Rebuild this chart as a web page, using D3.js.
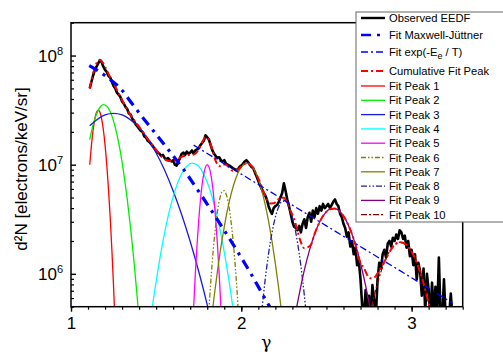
<!DOCTYPE html>
<html>
<head>
<meta charset="utf-8">
<script src="https://cdn.jsdelivr.net/npm/d3@7"></script>
<style>
  body { margin: 0; background: #fff; }
  svg { display: block; font-family: Arial, "Liberation Sans", sans-serif; }
</style>
</head>
<body>
<svg width="503" height="358"></svg>
<script>
// ---- data ----
// observed EEDF, one value per 0.01 in gamma, starting at gamma = 1.11
const obsStart = 1.11;
const obsStep = 0.01;
const obsCounts = [
  5.0e7, 5.75e7, 6.6e7, 7.4e7, 7.9e7, 8.5e7, 9.1e7, 8.7e7, 7.9e7, 7.4e7,
  7.1e7, 6.5e7, 6.3e7, 5.75e7, 5.25e7, 5.0e7, 4.57e7, 4.37e7, 4.17e7, 3.8e7,
  3.63e7, 3.39e7, 3.24e7, 2.95e7, 2.88e7, 2.63e7, 2.51e7, 2.34e7, 2.24e7, 2.14e7,
  2.04e7, 2.0e7, 1.82e7, 1.78e7, 1.66e7, 1.62e7, 1.55e7, 1.48e7, 1.41e7, 1.35e7,
  1.29e7, 1.26e7, 1.2e7, 1.23e7, 1.15e7, 1.12e7, 1.15e7, 1.1e7, 1.07e7, 1.1e7,
  1.0e7, 9.8e6, 1.07e7, 1.15e7, 1.26e7, 1.29e7, 1.23e7, 1.32e7, 1.26e7, 1.29e7,
  1.35e7, 1.26e7, 1.35e7, 1.38e7, 1.41e7, 1.51e7, 1.58e7, 1.66e7, 1.86e7, 1.78e7,
  1.7e7, 1.51e7, 1.35e7, 1.26e7, 1.2e7, 1.15e7, 1.17e7, 1.1e7, 1.07e7, 1.1e7,
  1.02e7, 1.0e7, 9.8e6, 9.55e6, 9.3e6, 9.1e6, 8.9e6, 9.1e6, 9.55e6, 9.8e6,
  1.02e7, 1.07e7, 1.1e7, 1.05e7, 1.0e7, 9.55e6, 9.3e6, 8.5e6, 7.8e6, 7.1e6,
  6.5e6, 6.0e6, 5.5e6, 5.25e6, 4.8e6, 4.17e6, 3.8e6, 3.55e6, 4.0e6, 4.17e6,
  4.27e6, 4.57e6, 5.0e6, 5.5e6, 6.76e6, 5.75e6, 4.8e6, 4.17e6, 3.55e6, 3.0e6,
  2.7e6, 2.63e6, 2.51e6, 2.75e6, 2.4e6, 2.88e6, 3.16e6, 2.63e6, 3.31e6, 3.63e6,
  3.0e6, 3.8e6, 3.31e6, 4.0e6, 3.55e6, 4.17e6, 3.8e6, 4.37e6, 4.0e6, 4.17e6,
  4.37e6, 4.0e6, 4.27e6, 4.57e6, 4.8e6, 4.37e6, 4.17e6, 3.55e6, 3.31e6, 2.88e6,
  2.63e6, 2.19e6, 2.4e6, 1.78e6, 2.0e6, 1.51e6, 1.74e6, 1.2e6, 1.32e6, 8.9e5,
  5.0e5, 4.17e5, 7.1e5, 4.0e5, 6.3e5, 4.17e5, 7.9e5, 5.6e5, 4.0e5, 8.9e5,
  1.26e6, 1.12e6, 1.51e6, 1.66e6, 1.41e6, 1.9e6, 2.0e6, 1.78e6, 2.14e6, 2.0e6,
  2.29e6, 2.09e6, 2.51e6, 2.4e6, 2.09e6, 2.24e6, 1.74e6, 2.0e6, 1.45e6, 1.66e6,
  1.2e6, 1.51e6, 8.9e5, 1.26e6, 1.05e6, 6.3e5, 1.12e6, 4.5e5, 1.0e6, 7.1e5,
  4.0e5, 8.3e5, 4.2e5, 7.6e5, 4.0e5, 1.41e6, 4.2e5, 4.0e5, 8.9e5, 4.0e5,
  3.8e5, 4.0e5, 6.6e5, 4.0e5
];

// [gamma, d2N]
const fitMaxwellJuttner = [
  [1.107, 8.1e7], [1.15, 7.4e7], [1.22, 6.2e7], [1.29, 5.0e7], [1.36, 3.6e7],
  [1.43, 2.6e7], [1.50, 1.9e7], [1.58, 1.32e7], [1.66, 9.1e6], [1.74, 6.0e6],
  [1.82, 3.9e6], [1.90, 2.5e6], [1.98, 1.58e6], [2.06, 9.8e5], [2.14, 5.9e5], [2.18, 4.6e5]
];

const fitExp = [
  [1.72, 1.51e7], [2.0, 8.2e6], [2.5, 2.75e6], [3.0, 9.2e5], [3.24, 5.4e5]
];

const cumulativeFit = [
  [1.11, 4.97e7], [1.12, 5.89e7], [1.13, 6.86e7], [1.14, 7.78e7], [1.15, 8.51e7],
  [1.16, 8.97e7], [1.17, 9.09e7], [1.18, 8.88e7], [1.19, 8.45e7], [1.20, 7.91e7],
  [1.21, 7.33e7], [1.22, 6.8e7], [1.23, 6.34e7], [1.24, 5.93e7], [1.25, 5.54e7],
  [1.26, 5.19e7], [1.28, 4.51e7], [1.30, 3.91e7], [1.32, 3.41e7], [1.34, 3.01e7],
  [1.36, 2.70e7], [1.38, 2.45e7], [1.40, 2.23e7], [1.45, 1.73e7], [1.50, 1.37e7],
  [1.53, 1.2e7], [1.56, 1.1e7], [1.59, 1.08e7], [1.62, 1.11e7], [1.65, 1.18e7],
  [1.68, 1.22e7], [1.71, 1.23e7], [1.73, 1.26e7], [1.75, 1.38e7], [1.77, 1.61e7],
  [1.79, 1.78e7], [1.80, 1.77e7], [1.81, 1.68e7], [1.83, 1.37e7], [1.85, 1.08e7],
  [1.87, 9.7e6], [1.89, 1.01e7], [1.91, 9.98e6], [1.93, 9.36e6], [1.95, 8.79e6],
  [1.97, 8.85e6], [1.99, 9.3e6], [2.01, 9.95e6], [2.03, 1.035e7], [2.05, 1.01e7],
  [2.07, 9.3e6], [2.09, 8.1e6], [2.11, 6.9e6], [2.13, 5.7e6], [2.15, 4.83e6],
  [2.17, 4.42e6], [2.19, 4.43e6], [2.21, 4.71e6], [2.23, 4.97e6], [2.25, 4.97e6],
  [2.27, 4.43e6], [2.29, 3.75e6], [2.31, 3.21e6], [2.33, 2.47e6], [2.35, 1.95e6],
  [2.37, 1.72e6], [2.39, 1.75e6], [2.41, 1.86e6], [2.43, 2.31e6], [2.46, 2.99e6],
  [2.49, 3.56e6], [2.52, 3.91e6], [2.55, 3.96e6], [2.58, 3.71e6], [2.61, 3.19e6],
  [2.64, 2.54e6], [2.67, 1.86e6], [2.70, 1.25e6], [2.72, 1.14e6], [2.74, 9.7e5],
  [2.76, 9.1e5], [2.78, 9.2e5], [2.80, 1.01e6], [2.82, 1.14e6], [2.85, 1.38e6],
  [2.89, 1.77e6], [2.93, 1.95e6], [2.97, 1.84e6], [3.01, 1.49e6], [3.05, 1.04e6],
  [3.09, 6.2e5], [3.11, 4.6e5], [3.13, 3.2e5]
];

const peak1 = [
  [1.11, 1.0e7], [1.12, 1.51e7], [1.13, 2.09e7], [1.14, 2.63e7], [1.15, 3.02e7],
  [1.16, 3.16e7], [1.17, 3.02e7], [1.18, 2.63e7], [1.19, 2.09e7], [1.20, 1.51e7],
  [1.21, 1.0e7], [1.22, 6.0e6], [1.23, 3.31e6], [1.24, 1.66e6], [1.25, 7.6e5], [1.26, 3.16e5]
];
const peak2 = [
  [1.11, 1.7e7], [1.13, 2.34e7], [1.15, 2.92e7], [1.17, 3.36e7], [1.19, 3.55e7],
  [1.21, 3.44e7], [1.23, 3.07e7], [1.25, 2.51e7], [1.27, 1.89e7], [1.29, 1.31e7],
  [1.31, 8.3e6], [1.33, 4.86e6], [1.35, 2.61e6], [1.37, 1.29e6], [1.39, 5.8e5], [1.41, 2.4e5]
];
const peak3 = [
  [1.11, 2.27e7], [1.15, 2.57e7], [1.20, 2.86e7], [1.25, 2.95e7], [1.30, 2.86e7],
  [1.35, 2.57e7], [1.40, 2.19e7], [1.45, 1.73e7], [1.50, 1.28e7], [1.55, 8.9e6],
  [1.60, 5.75e6], [1.65, 3.48e6], [1.70, 1.98e6], [1.75, 1.05e6], [1.80, 5.2e5], [1.85, 2.4e5]
];
const peak4 = [
  [1.46, 3.1e5], [1.48, 5.3e5], [1.50, 8.5e5], [1.53, 1.64e6], [1.56, 2.85e6],
  [1.59, 4.49e6], [1.62, 6.4e6], [1.65, 8.3e6], [1.68, 9.7e6], [1.71, 1.035e7],
  [1.74, 9.98e6], [1.77, 8.7e6], [1.80, 6.9e6], [1.83, 4.98e6], [1.86, 3.25e6],
  [1.89, 1.92e6], [1.92, 1.03e6], [1.95, 5.0e5], [1.97, 2.9e5]
];
const peak5 = [
  [1.71, 2.2e5], [1.72, 4.9e5], [1.73, 1.0e6], [1.74, 1.84e6], [1.75, 3.1e6],
  [1.76, 4.73e6], [1.77, 6.6e6], [1.78, 8.3e6], [1.79, 9.55e6], [1.80, 1.0e7],
  [1.81, 9.55e6], [1.82, 8.3e6], [1.83, 6.6e6], [1.84, 4.73e6], [1.85, 3.1e6],
  [1.86, 1.84e6], [1.87, 1.0e6], [1.88, 4.9e5], [1.89, 2.2e5]
];
const peak6 = [
  [1.80, 2.5e5], [1.81, 4.7e5], [1.82, 8.1e5], [1.83, 1.32e6], [1.84, 2.0e6],
  [1.85, 2.83e6], [1.86, 3.73e6], [1.87, 4.61e6], [1.88, 5.32e6], [1.89, 5.74e6],
  [1.90, 5.78e6], [1.91, 5.43e6], [1.92, 4.78e6], [1.93, 3.92e6], [1.94, 3.0e6],
  [1.95, 2.15e6], [1.96, 1.44e6], [1.97, 9.0e5], [1.98, 5.25e5], [1.99, 2.9e5]
];
const peak7 = [
  [1.82, 3.3e5], [1.84, 6.1e5], [1.86, 1.06e6], [1.88, 1.75e6], [1.90, 2.7e6],
  [1.92, 3.93e6], [1.94, 5.37e6], [1.96, 6.9e6], [1.98, 8.36e6], [2.00, 9.5e6],
  [2.02, 1.02e7], [2.04, 1.03e7], [2.06, 9.8e6], [2.08, 8.75e6], [2.10, 7.36e6],
  [2.12, 5.82e6], [2.14, 4.34e6], [2.16, 3.04e6], [2.18, 2.0e6], [2.20, 1.24e6],
  [2.22, 7.3e5], [2.24, 4.0e5], [2.25, 2.9e5]
];
const peak8 = [
  [2.11, 3.1e5], [2.12, 4.5e5], [2.14, 8.8e5], [2.16, 1.53e6], [2.18, 2.38e6],
  [2.20, 3.31e6], [2.22, 4.13e6], [2.24, 4.61e6], [2.26, 4.61e6], [2.28, 4.13e6],
  [2.30, 3.31e6], [2.32, 2.38e6], [2.34, 1.53e6], [2.36, 8.8e5], [2.38, 4.5e5], [2.39, 3.1e5]
];
const peak9 = [
  [2.30, 3.0e5], [2.32, 4.5e5], [2.34, 6.5e5], [2.37, 1.08e6], [2.40, 1.64e6],
  [2.43, 2.31e6], [2.46, 2.99e6], [2.49, 3.56e6], [2.52, 3.91e6], [2.55, 3.96e6],
  [2.58, 3.71e6], [2.61, 3.19e6], [2.64, 2.54e6], [2.67, 1.86e6], [2.70, 1.25e6],
  [2.73, 7.8e5], [2.76, 4.5e5], [2.78, 3.0e5]
];
const peak10 = [
  [2.75, 3.85e5], [2.77, 5.4e5], [2.79, 7.2e5], [2.81, 9.3e5], [2.83, 1.16e6],
  [2.85, 1.38e6], [2.87, 1.6e6], [2.89, 1.77e6], [2.91, 1.89e6], [2.93, 1.95e6],
  [2.95, 1.93e6], [2.97, 1.84e6], [2.99, 1.69e6], [3.01, 1.49e6], [3.03, 1.27e6],
  [3.05, 1.04e6], [3.07, 8.2e5], [3.09, 6.2e5], [3.11, 4.6e5], [3.13, 3.2e5]
];

const xMajorTicks = [1, 2, 3];
const yMajorTicks = [1e6, 1e7, 1e8];

// ---- layout ----
const plot = { left: 71, right: 462.7, top: 22.7, bottom: 306.7 };

const x = d3.scaleLinear().domain([1, 3.3]).range([plot.left, plot.right]);
const y = d3.scaleLog().domain([5e5, 2e8]).range([plot.bottom, plot.top]);

const svg = d3.select('svg');

svg.append('defs').append('clipPath').attr('id', 'clip')
  .append('rect')
  .attr('x', plot.left).attr('y', plot.top)
  .attr('width', plot.right - plot.left).attr('height', plot.bottom - plot.top);

const observed = obsCounts.map((v, i) => [obsStart + i * obsStep, v]);

const rawLine = d3.line().x((d) => x(d[0])).y((d) => y(d[1]));
const smoothLine = d3.line().x((d) => x(d[0])).y((d) => y(d[1])).curve(d3.curveMonotoneX);

// series styles (drawing order)
const series = [
  { name: 'Observed EEDF', data: observed, color: '#000000', width: 2.6, dash: null, gen: rawLine },
  { name: 'Fit Peak 1', data: peak1, color: '#ff0000', width: 1.3, dash: null, gen: smoothLine },
  { name: 'Fit Peak 2', data: peak2, color: '#00ee00', width: 1.3, dash: null, gen: smoothLine },
  { name: 'Fit Peak 3', data: peak3, color: '#1a1ae6', width: 1.3, dash: null, gen: smoothLine },
  { name: 'Fit Peak 4', data: peak4, color: '#00ffff', width: 1.3, dash: null, gen: smoothLine },
  { name: 'Fit Peak 5', data: peak5, color: '#ff00ff', width: 1.3, dash: null, gen: smoothLine },
  { name: 'Fit Peak 6', data: peak6, color: '#808000', width: 1.3, dash: '5,2,1.5,2,1.5,2', gen: smoothLine },
  { name: 'Fit Peak 7', data: peak7, color: '#808000', width: 1.3, dash: null, gen: smoothLine },
  { name: 'Fit Peak 8', data: peak8, color: '#20209a', width: 1.3, dash: '6,2,1.5,2,1.5,2', gen: smoothLine },
  { name: 'Fit Peak 9', data: peak9, color: '#800080', width: 1.3, dash: null, gen: smoothLine },
  { name: 'Fit Peak 10', data: peak10, color: '#8b0000', width: 1.3, dash: '6,2,2,2', gen: smoothLine },
  { name: 'Cumulative Fit Peak', data: cumulativeFit, color: '#ff0000', width: 2, dash: '7,3,2,3', gen: smoothLine },
  { name: 'Fit Maxwell-Jüttner', data: fitMaxwellJuttner, color: '#0000ff', width: 3.2, dash: '10,6,3,6', gen: smoothLine },
  { name: 'Fit exp', data: fitExp, color: '#0000ff', width: 1.3, dash: '7,3,2,3', gen: rawLine },
];

const gData = svg.append('g').attr('clip-path', 'url(#clip)');
gData.selectAll('path')
  .data(series)
  .join('path')
  .attr('d', (d) => d.gen(d.data))
  .attr('fill', 'none')
  .attr('stroke', (d) => d.color)
  .attr('stroke-width', (d) => d.width)
  .attr('stroke-dasharray', (d) => d.dash)
  .attr('stroke-linejoin', 'round');

// ---- axes ----
const xMinorTicks = d3.range(10, 34).map((v) => v / 10);

svg.append('g')
  .attr('transform', `translate(0,${plot.bottom})`)
  .call(d3.axisBottom(x).tickValues(xMinorTicks).tickSize(3).tickFormat(''))
  .call((g) => g.select('.domain').remove())
  .selectAll('line').attr('stroke-width', 1.2);

svg.append('g')
  .attr('transform', `translate(0,${plot.bottom})`)
  .call(d3.axisBottom(x).tickValues(xMajorTicks).tickSize(5).tickPadding(5).tickFormat(d3.format('d')))
  .call((g) => g.select('.domain').remove())
  .attr('font-size', 17)
  .attr('font-family', 'Arial, "Liberation Sans", sans-serif')
  .call((g) => g.selectAll('line').attr('stroke-width', 1.4));

const yMinorTicks = y.ticks().filter((v) => !yMajorTicks.includes(v));
svg.append('g')
  .attr('transform', `translate(${plot.left},0)`)
  .call(d3.axisLeft(y).tickValues(yMinorTicks).tickSize(-3).tickFormat(''))
  .call((g) => g.select('.domain').remove())
  .selectAll('line').attr('stroke-width', 1.2);

const yMajor = svg.append('g')
  .attr('transform', `translate(${plot.left},0)`)
  .call(d3.axisLeft(y).tickValues(yMajorTicks).tickSize(-5).tickFormat(''))
  .call((g) => g.select('.domain').remove());
yMajor.selectAll('line').attr('stroke-width', 1.4);

// 10^n labels
const yLabels = svg.append('g')
  .attr('font-family', 'Arial, "Liberation Sans", sans-serif')
  .attr('text-anchor', 'end');
yLabels.selectAll('text')
  .data(yMajorTicks)
  .join('text')
  .attr('x', plot.left - 8)
  .attr('y', (d) => y(d) + 6)
  .each(function(d) {
    const t = d3.select(this);
    t.append('tspan').attr('font-size', 17).text('10');
    t.append('tspan').attr('font-size', 11).attr('dy', -7).text(Math.round(Math.log10(d)));
  });

// frame
svg.append('rect')
  .attr('x', plot.left).attr('y', plot.top)
  .attr('width', plot.right - plot.left).attr('height', plot.bottom - plot.top)
  .attr('fill', 'none')
  .attr('stroke', '#000')
  .attr('stroke-width', 1.5);

// axis titles
svg.append('text')
  .attr('transform', `translate(27,169) rotate(-90)`)
  .attr('text-anchor', 'middle')
  .attr('font-size', 17)
  .text('d²N [electrons/keV/sr]');

svg.append('text')
  .attr('x', (plot.left + plot.right) / 2 - 0.5)
  .attr('y', 348)
  .attr('text-anchor', 'middle')
  .attr('font-size', 17)
  .attr('font-family', '"DejaVu Serif", "Liberation Serif", serif')
  .text('γ');

// ---- legend ----
const legendItems = [
  { label: 'Observed EEDF', s: 0, y: 18 },
  { label: 'Fit Maxwell-Jüttner', s: 12, y: 35 },
  { label: 'Fit exp', s: 13, y: 52 },
  { label: 'Cumulative Fit Peak', s: 11, y: 71 },
  { label: 'Fit Peak 1', s: 1, y: 86 },
  { label: 'Fit Peak 2', s: 2, y: 100.3 },
  { label: 'Fit Peak 3', s: 3, y: 114.6 },
  { label: 'Fit Peak 4', s: 4, y: 128.9 },
  { label: 'Fit Peak 5', s: 5, y: 143.2 },
  { label: 'Fit Peak 6', s: 6, y: 157.5 },
  { label: 'Fit Peak 7', s: 7, y: 171.8 },
  { label: 'Fit Peak 8', s: 8, y: 186.1 },
  { label: 'Fit Peak 9', s: 9, y: 200.4 },
  { label: 'Fit Peak 10', s: 10, y: 214.7 },
];

const legend = svg.append('g')
  .attr('font-family', 'Arial, "Liberation Sans", sans-serif')
  .attr('font-size', 11.2);

legend.append('rect')
  .attr('x', 356).attr('y', 12)
  .attr('width', 170).attr('height', 210)
  .attr('fill', '#fff')
  .attr('stroke', '#666')
  .attr('stroke-width', 1);

const item = legend.selectAll('g.item')
  .data(legendItems)
  .join('g')
  .attr('class', 'item')
  .attr('transform', (d) => `translate(0,${d.y})`);

item.append('line')
  .attr('x1', 361).attr('x2', 385)
  .attr('stroke', (d) => series[d.s].color)
  .attr('stroke-width', (d) => Math.min(series[d.s].width, 2.4))
  .attr('stroke-dasharray', (d) => series[d.s].dash);

item.append('text')
  .attr('x', 389)
  .attr('y', 4)
  .each(function(d) {
    const t = d3.select(this);
    if (d.label === 'Fit exp') {
      t.append('tspan').text('Fit exp(-E');
      t.append('tspan').attr('font-size', 9).attr('dy', 3).text('e');
      t.append('tspan').attr('dy', -3).text(' / T)');
    } else {
      t.text(d.label);
    }
  });
</script>
</body>
</html>
